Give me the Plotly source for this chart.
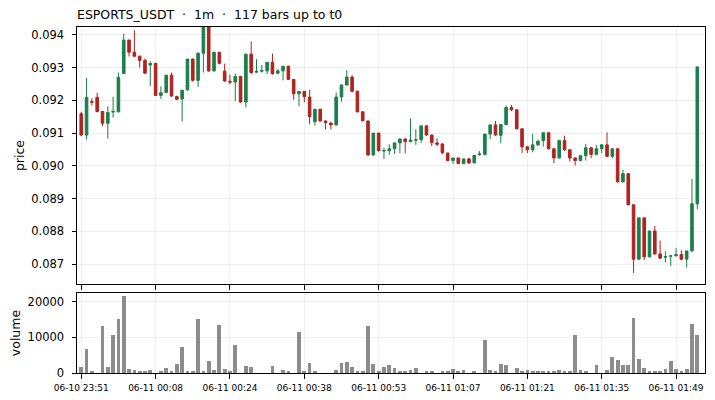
import plotly.graph_objects as go

# ---- data (117 one-minute bars) ----
opens = [0.09159, 0.09094, 0.09196, 0.09209, 0.09166, 0.09130, 0.09164, 0.09165, 0.09282, 0.09384,
         0.09347, 0.09335, 0.09322, 0.09308, 0.09313, 0.09215, 0.09224, 0.09277, 0.09212, 0.09204,
         0.09232, 0.09326, 0.09261, 0.09344, 0.09440, 0.09290, 0.09347, 0.09289, 0.09258, 0.09256,
         0.09273, 0.09195, 0.09341, 0.09286, 0.09289, 0.09290, 0.09316, 0.09283, 0.09290, 0.09304,
         0.09264, 0.09220, 0.09227, 0.09210, 0.09135, 0.09173, 0.09137, 0.09131, 0.09125, 0.09210,
         0.09247, 0.09271, 0.09228, 0.09165, 0.09137, 0.09033, 0.09100, 0.09045, 0.09046, 0.09052,
         0.09070, 0.09082, 0.09074, 0.09078, 0.09080, 0.09122, 0.09094, 0.09070, 0.09067, 0.09039,
         0.09016, 0.09024, 0.09007, 0.09021, 0.09009, 0.09034, 0.09035, 0.09097, 0.09125, 0.09093,
         0.09126, 0.09178, 0.09171, 0.09113, 0.09058, 0.09049, 0.09064, 0.09077, 0.09101, 0.09052,
         0.09024, 0.09077, 0.09049, 0.09024, 0.09016, 0.09031, 0.09055, 0.09035, 0.09052, 0.09064,
         0.09029, 0.09052, 0.08951, 0.08976, 0.08881, 0.08715, 0.08841, 0.08722, 0.08801, 0.08731,
         0.08721, 0.08724, 0.08725, 0.08729, 0.08715, 0.08740, 0.08884]
highs = [0.09165, 0.09269, 0.09206, 0.09223, 0.09168, 0.09182, 0.09211, 0.09285, 0.09404, 0.09386,
         0.09414, 0.09336, 0.09328, 0.09319, 0.09314, 0.09243, 0.09277, 0.09285, 0.09214, 0.09231,
         0.09326, 0.09327, 0.09346, 0.09460, 0.09450, 0.09347, 0.09348, 0.09312, 0.09278, 0.09282,
         0.09274, 0.09341, 0.09380, 0.09326, 0.09308, 0.09316, 0.09343, 0.09295, 0.09305, 0.09306,
         0.09265, 0.09228, 0.09228, 0.09232, 0.09173, 0.09174, 0.09138, 0.09132, 0.09224, 0.09247,
         0.09292, 0.09277, 0.09229, 0.09166, 0.09138, 0.09100, 0.09101, 0.09054, 0.09066, 0.09070,
         0.09083, 0.09083, 0.09145, 0.09112, 0.09122, 0.09123, 0.09095, 0.09084, 0.09068, 0.09040,
         0.09024, 0.09025, 0.09022, 0.09025, 0.09032, 0.09045, 0.09097, 0.09125, 0.09137, 0.09126,
         0.09184, 0.09186, 0.09172, 0.09114, 0.09059, 0.09098, 0.09080, 0.09101, 0.09102, 0.09053,
         0.09080, 0.09092, 0.09050, 0.09025, 0.09031, 0.09067, 0.09056, 0.09064, 0.09065, 0.09102,
         0.09052, 0.09053, 0.08988, 0.08977, 0.08882, 0.08841, 0.08842, 0.08801, 0.08816, 0.08772,
         0.08739, 0.08726, 0.08748, 0.08742, 0.08740, 0.08960, 0.09303]
lows = [0.09091, 0.09080, 0.09184, 0.09163, 0.09121, 0.09083, 0.09147, 0.09163, 0.09280, 0.09334,
        0.09332, 0.09300, 0.09281, 0.09244, 0.09213, 0.09204, 0.09224, 0.09211, 0.09201, 0.09135,
        0.09229, 0.09257, 0.09241, 0.09285, 0.09287, 0.09287, 0.09310, 0.09257, 0.09249, 0.09198,
        0.09192, 0.09178, 0.09280, 0.09285, 0.09285, 0.09280, 0.09278, 0.09280, 0.09261, 0.09262,
        0.09202, 0.09182, 0.09194, 0.09127, 0.09123, 0.09135, 0.09111, 0.09111, 0.09123, 0.09196,
        0.09245, 0.09224, 0.09163, 0.09135, 0.09031, 0.09031, 0.09044, 0.09021, 0.09034, 0.09036,
        0.09038, 0.09038, 0.09072, 0.09064, 0.09070, 0.09092, 0.09060, 0.09060, 0.09035, 0.09014,
        0.09006, 0.09005, 0.09005, 0.09005, 0.09007, 0.09031, 0.09031, 0.09082, 0.09092, 0.09069,
        0.09124, 0.09167, 0.09111, 0.09039, 0.09039, 0.09041, 0.09061, 0.09059, 0.09050, 0.09008,
        0.09023, 0.09046, 0.09013, 0.09001, 0.09014, 0.09016, 0.09023, 0.09033, 0.09039, 0.09026,
        0.09023, 0.08949, 0.08949, 0.08879, 0.08673, 0.08712, 0.08712, 0.08720, 0.08729, 0.08715,
        0.08705, 0.08694, 0.08724, 0.08711, 0.08689, 0.08738, 0.08867]
closes = [0.09094, 0.09209, 0.09194, 0.09166, 0.09130, 0.09163, 0.09166, 0.09270, 0.09384, 0.09347,
          0.09335, 0.09322, 0.09283, 0.09313, 0.09215, 0.09223, 0.09277, 0.09213, 0.09203, 0.09231,
          0.09326, 0.09261, 0.09344, 0.09440, 0.09290, 0.09347, 0.09313, 0.09259, 0.09256, 0.09273,
          0.09195, 0.09341, 0.09285, 0.09288, 0.09291, 0.09316, 0.09282, 0.09290, 0.09304, 0.09264,
          0.09220, 0.09227, 0.09211, 0.09150, 0.09173, 0.09137, 0.09132, 0.09125, 0.09210, 0.09247,
          0.09271, 0.09228, 0.09165, 0.09138, 0.09033, 0.09100, 0.09046, 0.09047, 0.09052, 0.09070,
          0.09082, 0.09074, 0.09079, 0.09080, 0.09122, 0.09094, 0.09071, 0.09066, 0.09040, 0.09016,
          0.09024, 0.09007, 0.09021, 0.09009, 0.09032, 0.09036, 0.09097, 0.09125, 0.09094, 0.09126,
          0.09178, 0.09171, 0.09113, 0.09058, 0.09049, 0.09064, 0.09075, 0.09101, 0.09052, 0.09024,
          0.09077, 0.09049, 0.09024, 0.09016, 0.09031, 0.09055, 0.09035, 0.09052, 0.09064, 0.09029,
          0.09052, 0.08951, 0.08976, 0.08881, 0.08715, 0.08841, 0.08722, 0.08801, 0.08731, 0.08718,
          0.08723, 0.08725, 0.08729, 0.08715, 0.08740, 0.08884, 0.09302]
volumes = [1770, 6790, 370, 0, 13200, 1770, 10700, 15160, 21580, 1210,
           930, 370, 370, 930, 0, 370, 1490, 650, 2600, 7350,
           370, 370, 15160, 370, 3440, 930, 13490, 1210, 650, 7910,
           0, 2050, 1770, 0, 0, 0, 2050, 0, 930, 370,
           0, 11530, 650, 2880, 370, 0, 0, 0, 930, 2880,
           3160, 1770, 370, 370, 13200, 2600, 370, 1770, 2330, 1490,
           650, 370, 930, 1490, 0, 650, 650, 0, 650, 650,
           1210, 650, 930, 0, 650, 0, 9300, 930, 650, 2600,
           2330, 0, 1490, 650, 930, 370, 370, 650, 370, 370,
           930, 370, 650, 10700, 930, 650, 0, 2330, 0, 930,
           4560, 3720, 2330, 2330, 15440, 4000, 1490, 370, 650, 370,
           1210, 3440, 1210, 370, 1210, 13770, 10700]

tick_pos = [0, 14, 28, 42, 56, 70, 84, 98, 112]
tick_labels = ["06-10 23:51", "06-11 00:08", "06-11 00:24", "06-11 00:38", "06-11 00:53",
               "06-11 01:07", "06-11 01:21", "06-11 01:35", "06-11 01:49"]

idx = list(range(len(closes)))

GREEN = "#1b7f4c"
RED = "#b0231f"
GRID = "rgba(0,0,0,0.06)"
FONT = "DejaVu Sans"

fig = go.Figure()

fig.add_trace(go.Candlestick(
    x=idx, open=opens, high=highs, low=lows, close=closes,
    increasing=dict(line=dict(color=GREEN, width=1), fillcolor=GREEN),
    decreasing=dict(line=dict(color=RED, width=1), fillcolor=RED),
    whiskerwidth=0, showlegend=False, xaxis="x", yaxis="y",
))

fig.add_trace(go.Bar(
    x=idx, y=volumes, width=0.7, marker=dict(color="#8c8c8c", line=dict(width=0)),
    showlegend=False, xaxis="x2", yaxis="y2",
))

axis_common = dict(
    showline=True, linecolor="black", linewidth=1, mirror=True,
    ticks="outside", ticklen=4.5, tickwidth=1, tickcolor="black",
    showgrid=True, gridcolor=GRID, gridwidth=1, zeroline=False,
    automargin=False,
    tickfont=dict(family=FONT, size=11.5, color="black"),
)

# the page body adds 8px around the figure, margins are set with that in mind
fig.update_layout(
    width=715, height=400,
    paper_bgcolor="white", plot_bgcolor="white",
    margin=dict(l=69, r=18, t=19, b=35),
    font=dict(family=FONT, color="black"),
    title=dict(text="ESPORTS_USDT\u00a0\u00a0·\u00a0\u00a01m\u00a0\u00a0·\u00a0\u00a0117 bars up to t0",
               x=0, xref="paper", xanchor="left", y=1 - 6.5 / 400, yref="container", yanchor="middle",
               font=dict(family=FONT, size=12.5, color="black")),
    xaxis=dict(axis_common, domain=[0, 1], anchor="y", range=[-0.8, 117.45],
               tickvals=tick_pos, showticklabels=False, rangeslider=dict(visible=False)),
    xaxis2=dict(axis_common, domain=[0, 1], anchor="y2", range=[-0.8, 117.45], matches="x",
                tickvals=tick_pos, ticktext=tick_labels, ticklabelstandoff=2,
                tickfont=dict(family=FONT, size=9, color="black")),
    yaxis=dict(axis_common, domain=[0.2572, 1], anchor="x", range=[0.08639, 0.09424],
               dtick=0.001, tickformat=".3f", ticklabelstandoff=5,
               title=dict(text="price", font=dict(family=FONT, size=12.5), standoff=3.5)),
    yaxis2=dict(axis_common, domain=[0, 0.2312], anchor="x2", range=[0, 22400],
                tickvals=[0, 10000, 20000], tickformat="d", ticklabelstandoff=5,
                title=dict(text="volume", font=dict(family=FONT, size=12.5), standoff=9)),
    bargap=0,
)

fig.write_html("out.html")
